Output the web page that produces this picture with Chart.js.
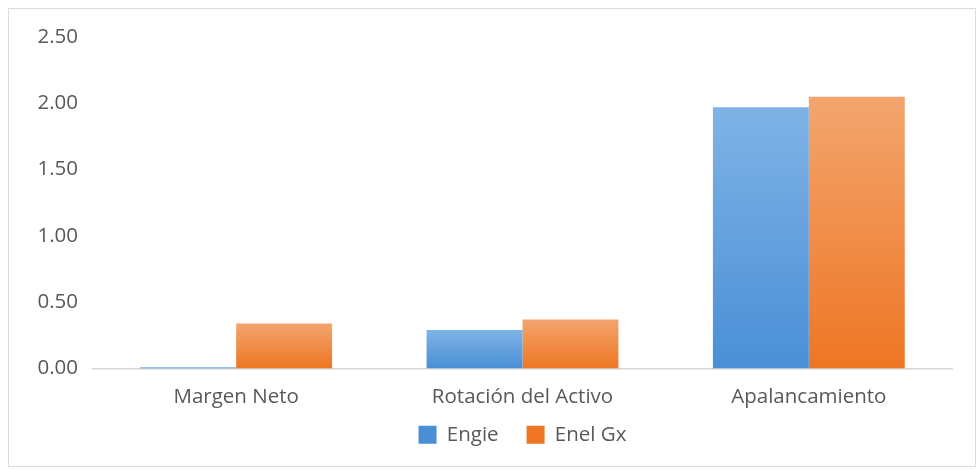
<!DOCTYPE html>
<html>
<head>
<meta charset="utf-8">
<script src="https://cdn.jsdelivr.net/npm/chart.js@4.4.0/dist/chart.umd.min.js"></script>
<style>
    html, body { margin: 0; padding: 0; background: #fff; }
    #wrap { position: relative; width: 980px; height: 471px; }
    #frame { position: absolute; left: 8px; top: 8px; width: 968px; height: 459px; border: 1px solid #dcdcdc; box-sizing: border-box; }
    #chart { position: absolute; left: 0; top: 0; }
</style>
</head>
<body>
<div id="wrap">
    <div id="frame"></div>
    <canvas id="chart" width="980" height="471"></canvas>
</div>
<script>
const categories = ['Margen Neto', 'Rotación del Activo', 'Apalancamiento'];
const engie = [0.01, 0.29, 1.97];
const enelGx = [0.34, 0.37, 2.05];
const yTicks = [0, 0.5, 1, 1.5, 2, 2.5];

// lighter at the top of each bar, like the Office gradient fill
function barGradient(top, bottom) {
    return (ctx) => {
        const chart = ctx.chart;
        if (!chart.chartArea || ctx.parsed === undefined) return bottom;
        const y = chart.scales.y;
        const yTop = y.getPixelForValue(ctx.parsed.y);
        const yBase = y.getPixelForValue(0);
        if (Math.abs(yBase - yTop) < 1) return bottom;
        const g = chart.ctx.createLinearGradient(0, yTop, 0, yBase);
        g.addColorStop(0, top);
        g.addColorStop(1, bottom);
        return g;
    };
}

// the x scale box is kept short; let its labels draw below it
const unclipLabels = {
    id: 'unclipLabels',
    afterLayout(chart) {
        chart.scales.x.bottom += 40;
    }
};

const font = { family: 'Open Sans', size: 20.5 };

new Chart(document.getElementById('chart'), {
    type: 'bar',
    data: {
        labels: categories,
        datasets: [
            {
                label: 'Engie',
                data: engie,
                backgroundColor: barGradient('#7fb3e6', '#4a8fd6'),
                borderWidth: 0
            },
            {
                label: 'Enel Gx',
                data: enelGx,
                backgroundColor: barGradient('#f3a56e', '#ee7624'),
                borderWidth: 0
            }
        ]
    },
    options: {
        responsive: false,
        animation: false,
        layout: { padding: { top: 37, left: 0, right: 28, bottom: 16 } },
        datasets: {
            bar: { barPercentage: 1, categoryPercentage: 0.67 }
        },
        scales: {
            x: {
                grid: { display: false, drawTicks: false },
                border: { display: true, color: '#d6d6d6', width: 1.5 },
                ticks: { color: '#595959', font: font, padding: 16 },
                afterFit: (s) => { s.height = 28; }
            },
            y: {
                min: 0,
                max: 2.5,
                afterBuildTicks: (s) => { s.ticks = yTicks.map(v => ({ value: v })); },
                grid: { display: false, drawTicks: false },
                border: { display: false },
                ticks: {
                    color: '#595959',
                    font: font,
                    padding: 15,
                    callback: (v) => Number(v).toFixed(2)
                },
                afterFit: (s) => { s.width = 93; }
            }
        },
        plugins: {
            legend: {
                position: 'bottom',
                fullSize: false,
                labels: {
                    color: '#595959',
                    font: font,
                    boxWidth: 18,
                    boxHeight: 18,
                    padding: 28
                }
            },
            tooltip: { enabled: false }
        }
    },
    plugins: [unclipLabels]
});
</script>
</body>
</html>
